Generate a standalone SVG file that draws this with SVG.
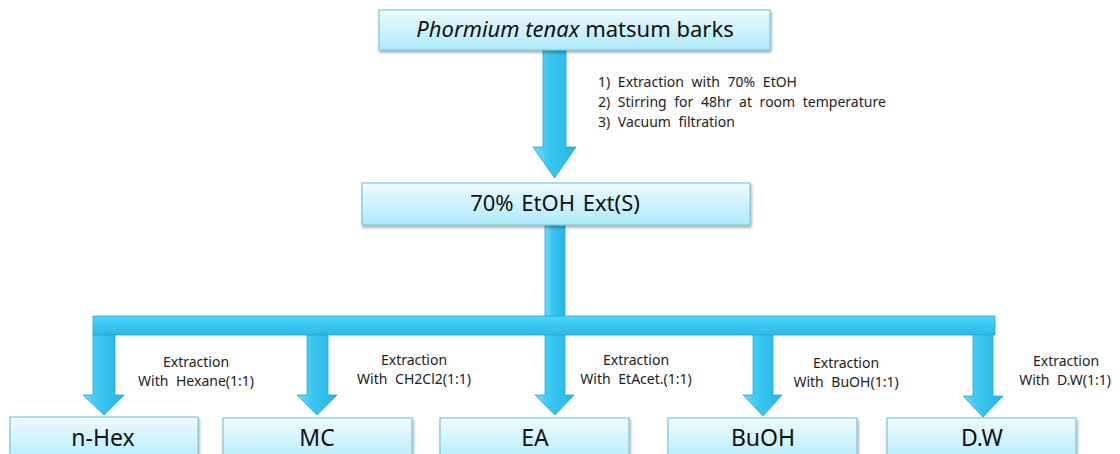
<svg xmlns="http://www.w3.org/2000/svg" width="1120" height="454" viewBox="0 0 1120 454">
<defs>
<linearGradient id="boxg" x1="0" y1="0" x2="0" y2="1">
<stop offset="0" stop-color="#eefafe"/>
<stop offset="1" stop-color="#aeeafb"/>
</linearGradient>
<linearGradient id="arrg" x1="0" y1="0" x2="1" y2="0">
<stop offset="0" stop-color="#6fdcfa"/>
<stop offset="0.35" stop-color="#3cc8f2"/>
<stop offset="1" stop-color="#27b4e4"/>
</linearGradient>
<linearGradient id="barg" x1="0" y1="0" x2="0" y2="1">
<stop offset="0" stop-color="#4dd6fb"/>
<stop offset="1" stop-color="#2ab8e6"/>
</linearGradient>
<filter id="sh" x="-5%" y="-20%" width="110%" height="150%">
<feDropShadow dx="1" dy="2" stdDeviation="1.5" flood-color="#000" flood-opacity="0.35"/>
</filter>
</defs>
<style>
.box{fill:url(#boxg);stroke:#7cc9dc;stroke-width:1.2;filter:url(#sh)}
.arr{fill:url(#arrg);stroke:#22a8d6;stroke-width:0.8}
.bar{fill:url(#barg);stroke:#22a8d6;stroke-width:0.8}
.big{font-family:"Noto Sans","Open Sans",sans-serif;font-size:22px;fill:#111;text-anchor:middle}
.node{font-size:23px}
.lbl{font-family:"Noto Sans","Open Sans",sans-serif;font-size:14px;fill:#222;word-spacing:4px}
.mid{text-anchor:middle}
</style>
<g id="connectors">
<polygon class="arr" points="543,50 566,50 566,147 576,147 554.5,178 533,147 543,147"/>
<rect class="arr" x="545" y="225" width="20" height="92"/>
<rect class="bar" x="93" y="316" width="902" height="19"/>
<polygon class="arr" points="93,335 115,335 115,395 124,395 104,415 83,395 93,395"/>
<polygon class="arr" points="307,335 328,335 328,395 337,395 317,415 297,395 307,395"/>
<polygon class="arr" points="545,335 565,335 565,395 574,395 555,415 535,395 545,395"/>
<polygon class="arr" points="753,335 773,335 773,395 782,395 763,416 743,395 753,395"/>
<polygon class="arr" points="973,335 993,335 993,396 1003,396 983,417 963,396 973,396"/>
</g>
<g id="step-labels">
<text class="lbl" x="598" y="87">1) Extraction with 70% EtOH</text>
<text class="lbl" x="598" y="107">2) Stirring for 48hr at room temperature</text>
<text class="lbl" x="598" y="127">3) Vacuum filtration</text>
<text class="lbl mid" x="196" y="367">Extraction</text>
<text class="lbl mid" x="196" y="386">With Hexane(1:1)</text>
<text class="lbl mid" x="414" y="365">Extraction</text>
<text class="lbl mid" x="414" y="384">With CH2Cl2(1:1)</text>
<text class="lbl mid" x="636" y="365">Extraction</text>
<text class="lbl mid" x="636" y="384">With EtAcet.(1:1)</text>
<text class="lbl mid" x="846" y="368">Extraction</text>
<text class="lbl mid" x="846" y="387">With BuOH(1:1)</text>
<text class="lbl mid" x="1066" y="366">Extraction</text>
<text class="lbl mid" x="1065" y="385">With D.W(1:1)</text>
</g>
<g id="node-source">
<rect class="box" x="379" y="10" width="391" height="40"/>
<text class="big" x="575" y="37"><tspan font-style="italic">Phormium tenax</tspan> matsum barks</text>
</g>
<g id="node-ethanol">
<rect class="box" x="362" y="183" width="388" height="42"/>
<text class="big" x="555" y="211" word-spacing="2">70% EtOH Ext(S)</text>
</g>
<g id="node-nhex">
<rect class="box" x="10" y="417" width="188" height="50"/>
<text class="big node" x="103" y="446">n-Hex</text>
</g>
<g id="node-mc">
<rect class="box" x="223" y="418" width="189" height="50"/>
<text class="big node" x="317" y="446">MC</text>
</g>
<g id="node-ea">
<rect class="box" x="440" y="418" width="189" height="50"/>
<text class="big node" x="535" y="446">EA</text>
</g>
<g id="node-buoh">
<rect class="box" x="668" y="418" width="189" height="50"/>
<text class="big node" x="763" y="446">BuOH</text>
</g>
<g id="node-dw">
<rect class="box" x="887" y="418" width="189" height="50"/>
<text class="big node" x="982" y="446">D.W</text>
</g>
</svg>
